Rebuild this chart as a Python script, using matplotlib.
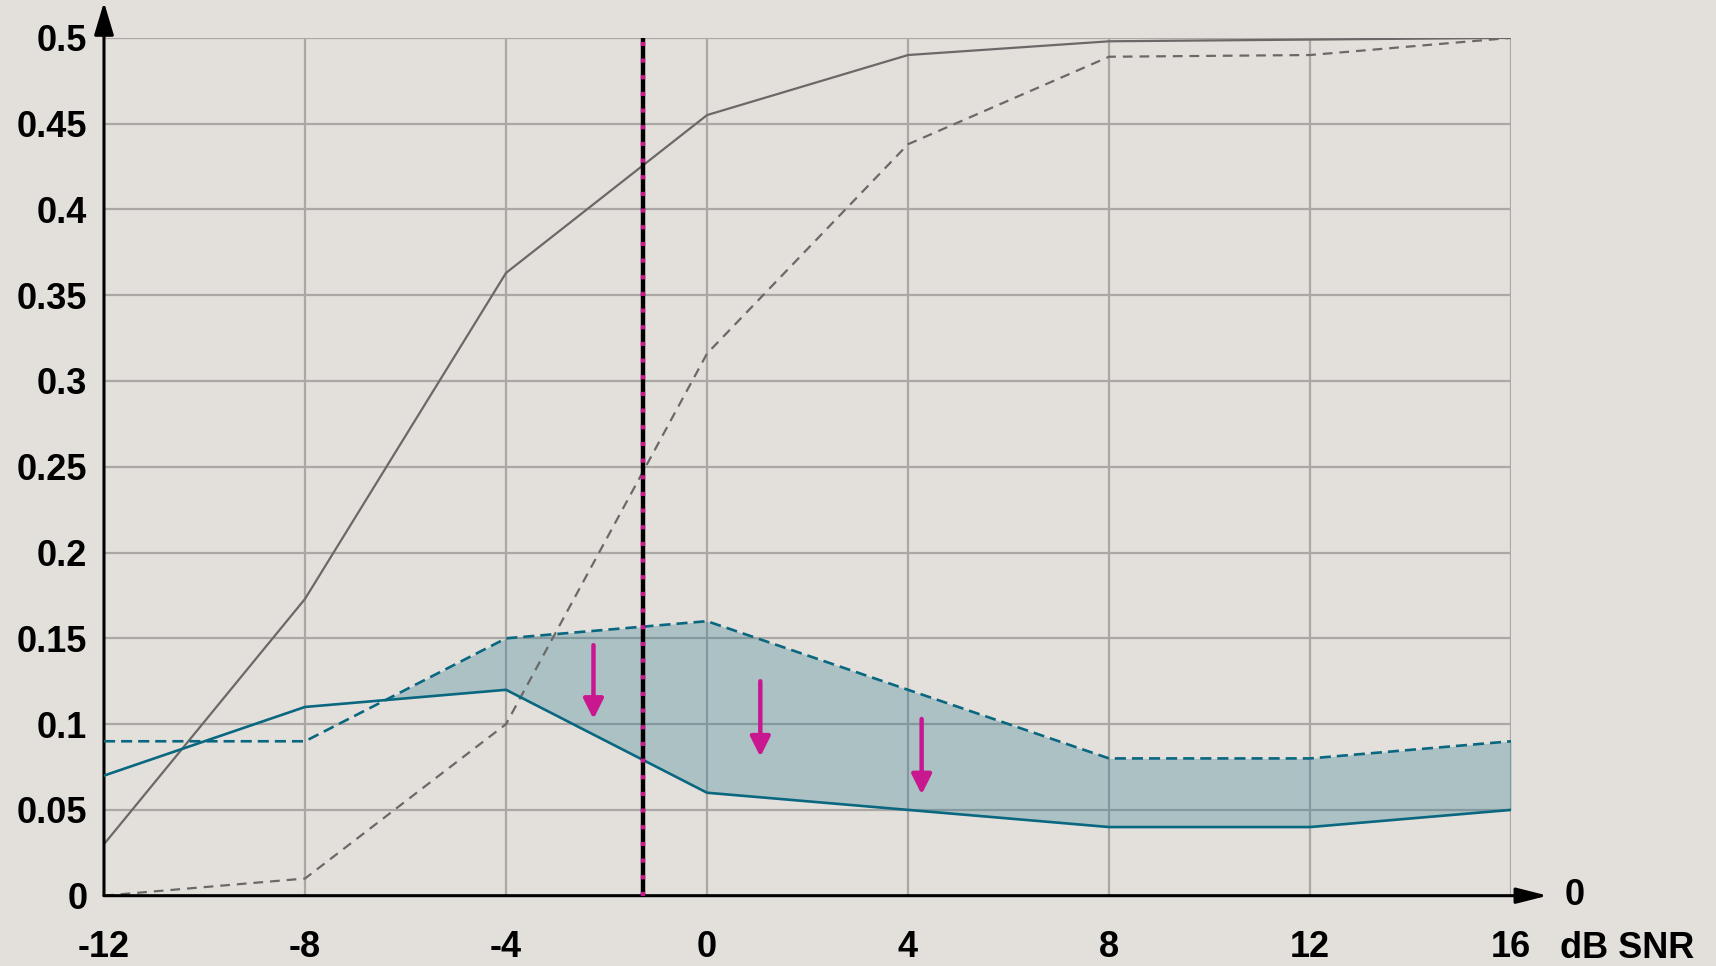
import numpy as np
import matplotlib.pyplot as plt

plt.rcParams['font.family'] = ['Liberation Sans', 'DejaVu Sans']
plt.rcParams['font.weight'] = 'bold'
plt.rcParams['lines.scale_dashes'] = False

# SNR steps (dB)
snr = [-12, -8, -4, 0, 4, 8, 12, 16]

# grey curves
grey_solid = [0.03, 0.173, 0.363, 0.455, 0.49, 0.498, 0.499, 0.5]
grey_dashed = [0.0, 0.01, 0.10, 0.316, 0.438, 0.489, 0.49, 0.5]

# teal curves
teal_solid = [0.07, 0.11, 0.12, 0.06, 0.05, 0.04, 0.04, 0.05]
teal_dashed = [0.09, 0.09, 0.15, 0.16, 0.12, 0.08, 0.08, 0.09]

# vertical marker and downward arrows (x, y_start, y_end)
marker_x = -1.27
arrow_x = [-2.26, 1.06, 4.27]
arrow_top = [0.146, 0.125, 0.103]
arrow_tip = [0.103, 0.081, 0.059]

yticks = [0, 0.05, 0.1, 0.15, 0.2, 0.25, 0.3, 0.35, 0.4, 0.45, 0.5]
ylabels = ['0', '0.05', '0.1', '0.15', '0.2', '0.25', '0.3', '0.35', '0.4', '0.45', '0.5']

bg = '#e3e0dc'
grid_c = '#aaa7a4'
grey = '#6b6967'
teal = '#0a6780'
magenta = '#c8178f'

fig = plt.figure(figsize=(17.16, 9.66), dpi=100, facecolor=bg)
ax = fig.add_axes([0.0606, 0.0728, 0.82, 0.888], facecolor=bg)
ax.set_xlim(-12, 16)
ax.set_ylim(0, 0.5)

# grid
for x in snr[1:]:
    ax.plot([x, x], [0, 0.5], color=grid_c, lw=1.6, zorder=1)
for y in yticks[1:]:
    ax.plot([-12, 16], [y, y], color=grid_c, lw=1.6, zorder=1)

# shaded band where the dashed teal curve lies above the solid one (from -8 dB on)
x = np.array(snr)
td = np.array(teal_dashed)
ts = np.array(teal_solid)
ax.fill_between(x, ts, td, where=(td >= ts) & (x > -12), interpolate=True,
                color='#2c7b8e', alpha=0.3, lw=0, zorder=2)

ax.plot(snr, grey_solid, color=grey, lw=1.6, zorder=3)
ax.plot(snr, grey_dashed, color=grey, lw=1.6, dashes=(7, 5), zorder=3)
ax.plot(snr, teal_solid, color=teal, lw=1.9, zorder=4)
ax.plot(snr, teal_dashed, color=teal, lw=1.9, dashes=(8, 4.3), zorder=4)

# vertical marker: black with magenta ticks
ax.plot([marker_x, marker_x], [0, 0.5], color='black', lw=3.2, zorder=5)
ax.plot([marker_x, marker_x], [0, 0.5], color=magenta, lw=3.2,
        dashes=(3.0, 9.0), dash_capstyle='butt', zorder=6)

for xa, y0, y1 in zip(arrow_x, arrow_top, arrow_tip):
    ax.annotate('', xy=(xa, y1), xytext=(xa, y0),
                arrowprops=dict(arrowstyle='-|>,head_length=1.2,head_width=0.6',
                                mutation_scale=10, lw=3.2, color=magenta,
                                shrinkA=0, shrinkB=0), zorder=7)

# axes with arrow heads
for s in ax.spines.values():
    s.set_visible(False)
ax.annotate('', xy=(0, 1.0416), xytext=(0, 0), xycoords='axes fraction',
            arrowprops=dict(arrowstyle='-|>,head_length=1.0,head_width=0.3',
                            mutation_scale=20, lw=2.2, color='black',
                            shrinkA=0, shrinkB=0), annotation_clip=False)
ax.annotate('', xy=(1.026, 0), xytext=(0, 0), xycoords='axes fraction',
            arrowprops=dict(arrowstyle='-|>,head_length=0.95,head_width=0.24',
                            mutation_scale=20, lw=2.2, color='black',
                            shrinkA=0, shrinkB=0), annotation_clip=False)

ax.set_xticks(snr)
ax.set_xticklabels([str(v) for v in snr])
ax.set_yticks(yticks)
ax.set_yticklabels(ylabels)
ax.tick_params(axis='both', length=0, labelsize=26)
ax.tick_params(axis='y', pad=12)
ax.tick_params(axis='x', pad=25)

ax.text(1.0455, 0, '0', transform=ax.transAxes, ha='center', va='center',
        fontsize=26, fontweight='bold')
fig.text(0.948, 0.0186, 'dB SNR', ha='center', va='center',
         fontsize=26, fontweight='bold')

plt.savefig('out.png', dpi=100, facecolor=bg)
plt.close()
